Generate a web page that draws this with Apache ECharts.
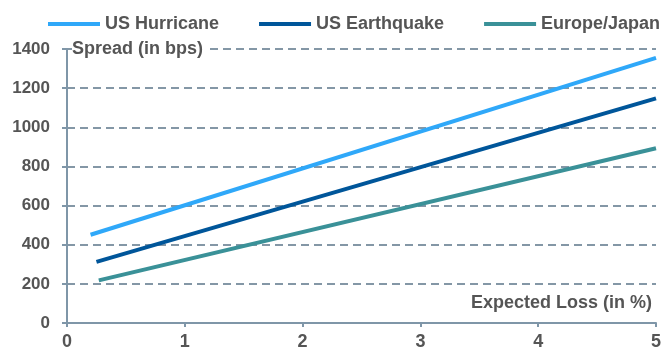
<!DOCTYPE html>
<html>
<head>
<meta charset="utf-8">
<script src="https://cdn.jsdelivr.net/npm/echarts@6/dist/echarts.min.js"></script>
<style>
  html, body { margin: 0; padding: 0; background: #ffffff; }
  #chart { width: 671px; height: 353px; }
</style>
</head>
<body>
<div id="chart"></div>
<script>
// Spread (bps) against expected loss (%) for three peril regions
const seriesNames = ['US Hurricane', 'US Earthquake', 'Europe/Japan'];
const usHurricane = [[0.2, 451], [5, 1355]];
const usEarthquake = [[0.25, 312], [5, 1148]];
const europeJapan = [[0.27, 218], [5, 893]];
const xTicks = [0, 1, 2, 3, 4, 5];
const yTicks = [0, 200, 400, 600, 800, 1000, 1200, 1400];

const colors = ['#2fa8f9', '#00569a', '#3a9198'];
const font = "'Liberation Sans', Arial, sans-serif";
const textGray = '#555555';
const axisColor = '#7f96a8';

const chart = echarts.init(document.getElementById('chart'), null, { renderer: 'canvas' });

const lineData = [usHurricane, usEarthquake, europeJapan];

chart.setOption({
  animation: false,
  color: colors,
  grid: { left: 67, right: 15, top: 49, bottom: 30, containLabel: false },
  legend: {
    data: seriesNames,
    left: 43,
    top: 10,
    icon: 'rect',
    itemWidth: 52,
    itemHeight: 4,
    itemGap: 40,
    textStyle: { fontFamily: font, fontSize: 18, fontWeight: 'bold', color: textGray }
  },
  xAxis: {
    type: 'value',
    min: xTicks[0],
    max: xTicks[xTicks.length - 1],
    interval: 1,
    axisLine: { show: true, lineStyle: { color: axisColor, width: 2 } },
    axisTick: { show: true, length: 4, lineStyle: { color: axisColor, width: 2 } },
    splitLine: { show: false },
    axisLabel: { margin: 10, fontFamily: font, fontSize: 18, fontWeight: 'bold', color: textGray }
  },
  yAxis: {
    type: 'value',
    min: yTicks[0],
    max: yTicks[yTicks.length - 1],
    interval: 200,
    axisLine: { show: true, lineStyle: { color: axisColor, width: 2 } },
    axisTick: { show: true, length: 5, lineStyle: { color: axisColor, width: 2 } },
    splitLine: { show: true, lineStyle: { color: '#8497a6', width: 2, type: [8, 5] } },
    axisLabel: {
      margin: 17,
      formatter: (v) => String(v),
      fontFamily: font, fontSize: 17, fontWeight: 'bold', color: textGray
    }
  },
  graphic: [
    {
      type: 'text',
      x: 72,
      y: 49,
      z: 100,
      style: {
        text: 'Spread (in bps)',
        fontFamily: font,
        fontSize: 18,
        fontWeight: 'bold',
        fill: textGray,
        verticalAlign: 'middle',
        align: 'left',
        backgroundColor: '#ffffff',
        padding: [0, 3, 0, 0]
      }
    },
    {
      type: 'text',
      x: 652,
      y: 303,
      z: 100,
      style: {
        text: 'Expected Loss (in %)',
        fontFamily: font,
        fontSize: 18,
        fontWeight: 'bold',
        fill: textGray,
        verticalAlign: 'middle',
        align: 'right'
      }
    }
  ],
  series: seriesNames.map((name, i) => ({
    name: name,
    type: 'line',
    data: lineData[i],
    symbol: 'none',
    lineStyle: { width: 4, color: colors[i] },
    z: 10 + i
  }))
});
</script>
</body>
</html>
